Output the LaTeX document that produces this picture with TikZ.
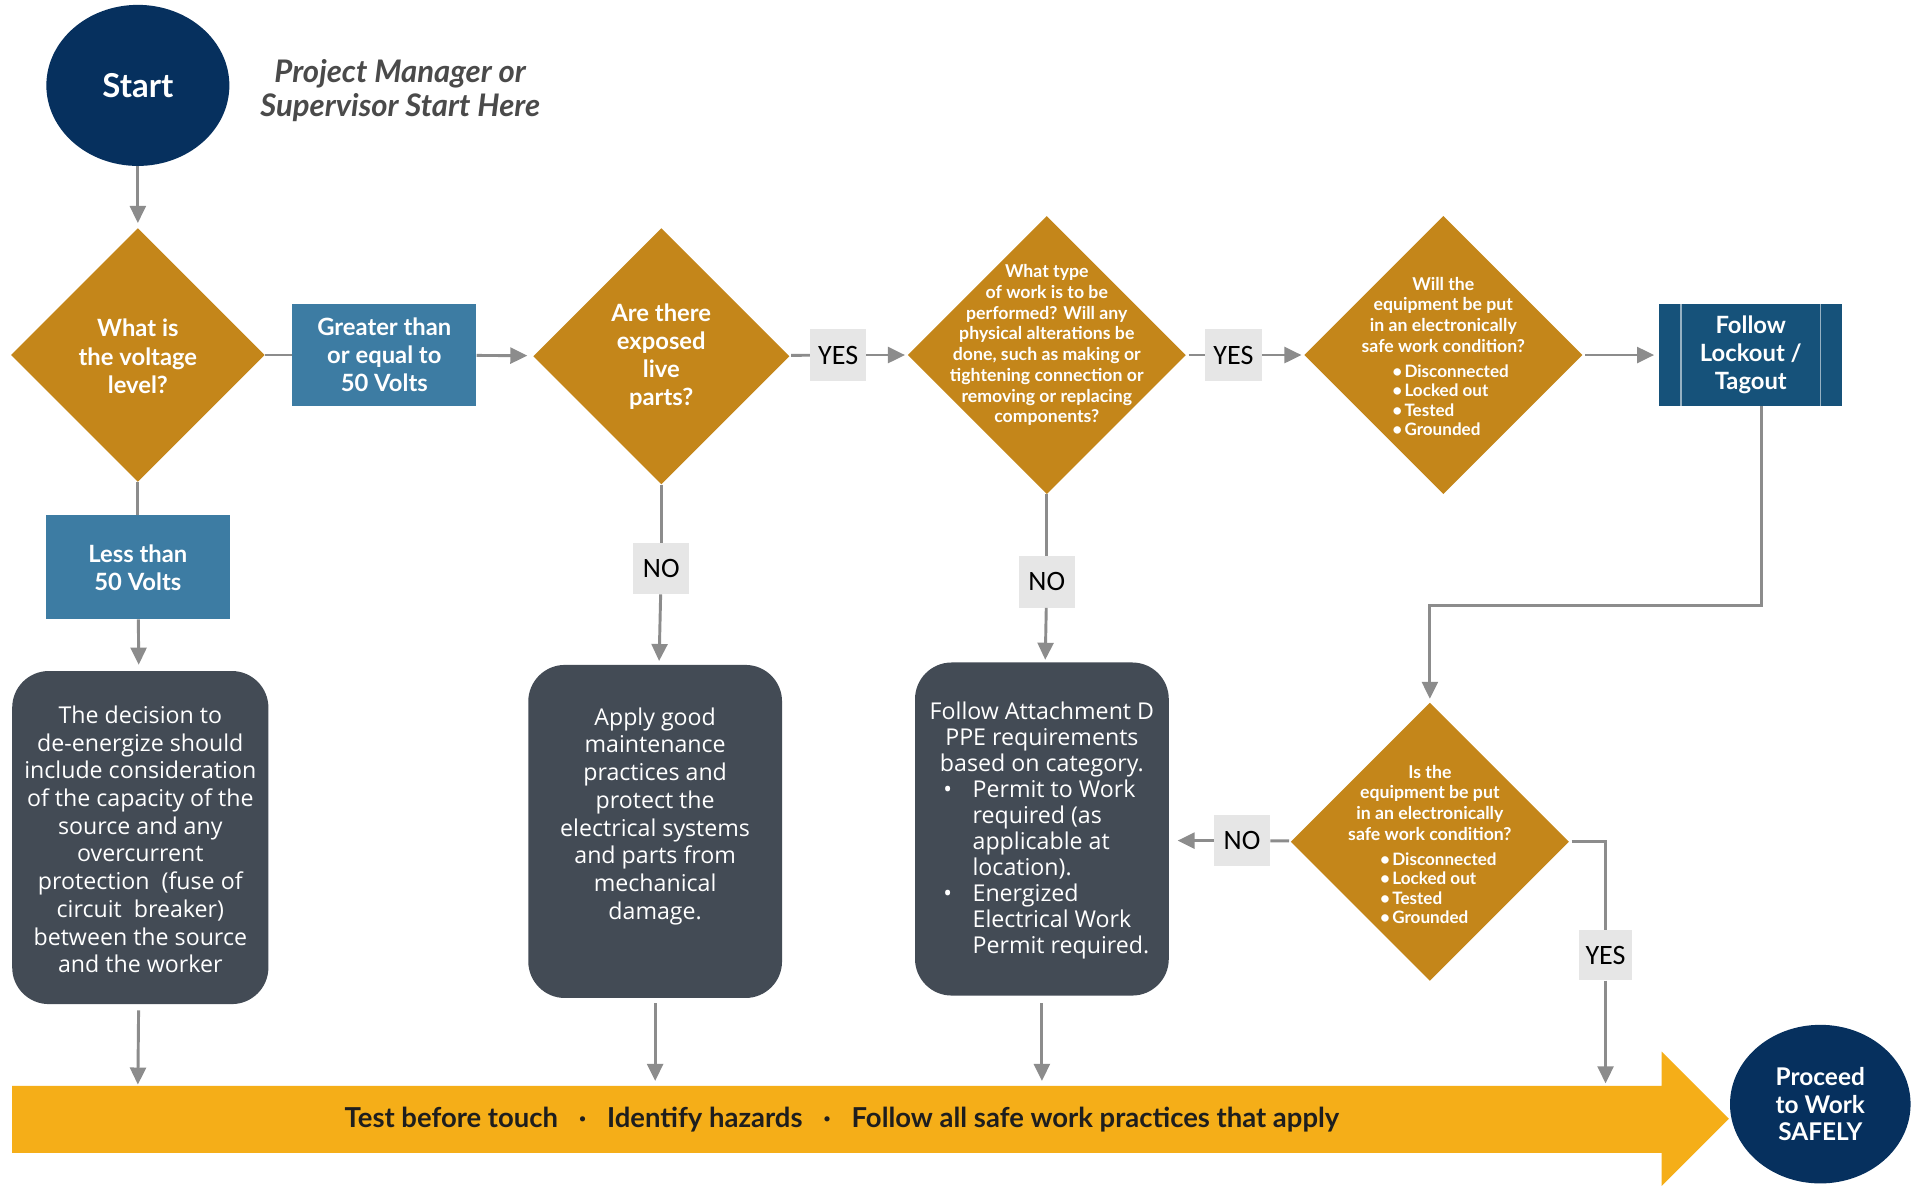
\documentclass[tikz,border=0pt]{standalone}
\usepackage{fontspec}
\setmainfont{Lato}
\newfontfamily\labfont{Carlito}
\newfontfamily\boxfont{Open Sans}
\usetikzlibrary{shapes.geometric,arrows.meta}
\definecolor{cGold}{HTML}{C4861A}
\definecolor{cSteel}{HTML}{3D7CA3}
\definecolor{cLock}{HTML}{16527A}
\definecolor{cNavy}{HTML}{06305E}
\definecolor{cSlate}{HTML}{434B55}
\definecolor{cYel}{HTML}{F5AE18}
\definecolor{cLine}{HTML}{8C8C8C}
\definecolor{cLab}{HTML}{E6E6E6}
\definecolor{cHead}{HTML}{4A4A4A}
\definecolor{cDark}{HTML}{1E1E1E}
\newcommand\fs[2]{\fontsize{#1}{#2}\selectfont}
\newcommand\sbul{\makebox[10pt][l]{\textbullet}}
\newcommand\bbul{\makebox[24pt][l]{\textbullet}}
\newcommand\bind{\hspace*{24pt}}
\begin{document}
\begin{tikzpicture}[x=1pt,y=-1pt,
  conn/.style={draw=cLine, line width=2.4pt},
  conarrow/.style={conn, -{Triangle[length=14pt,width=13pt]}},
  dia/.style={diamond, fill=cGold, inner sep=0pt, aspect=1, minimum width=#1, minimum height=#1},
  dtext/.style={text=white, align=center, inner sep=0pt, font=\bfseries\fs{15}{17}},
  bluebox/.style={rectangle, fill=cSteel, text=white, align=center, minimum width=151pt, minimum height=84pt, inner sep=0pt, font=\bfseries\fs{19.5}{23}},
  rbox/.style={rectangle, rounded corners=30pt, fill=cSlate, minimum width=209pt, minimum height=273pt, inner sep=0pt},
  rtext/.style={text=white, align=center, inner sep=0pt, font=\boxfont\fs{19}{22.7}},
  lab/.style={rectangle, fill=cLab, minimum width=46pt, minimum height=42pt, inner sep=0pt, font=\labfont\fs{23}{24}},
  myoval/.style={ellipse, fill=cNavy, text=white, align=center, inner sep=0pt},
]
\useasboundingbox (0,0) rectangle (1568,972);
\fill[white] (0,0) rectangle (1568,972);

% start
\node[myoval, minimum width=150pt, minimum height=132pt, font=\bfseries\fs{27}{30}] (start) at (113,70) {Start};
\node[text=cHead, font=\bfseries\itshape\fs{25.5}{28}, align=center, inner sep=0pt] (who) at (328,74) {Project Manager or\\Supervisor Start Here};

% row 1
\node[dia=208pt] (d1) at (113,291) {};
\node[dtext, font=\bfseries\fs{19.5}{23}] (t1) at (113,292) {What is\\the voltage\\level?};
\node[bluebox] (gt) at (315,291) {Greater than\\or equal to\\50 Volts};
\node[dia=210pt] (d2) at (542,292) {};
\node[dtext, font=\bfseries\fs{19.5}{23}] (t2) at (542,292) {Are there\\exposed\\live\\parts?};
\node[lab] (y1) at (687,291) {YES};
\node[dia=228pt] (d3) at (858,291) {};
\node[dtext, font=\bfseries\fs{14.5}{17}] (t3) at (858,283) {What type\\of work is to be\\performed? Will any\\physical alterations be\\done, such as making or\\tightening connection or\\removing or replacing\\components?};
\node[lab] (y2) at (1011,291) {YES};
\node[dia=228pt] (d4) at (1183,291) {};
\node[dtext, font=\bfseries\fs{14.5}{17}] (t4) at (1183,258) {Will the\\equipment be put\\in an electronically\\safe work condition?};
\node[dtext, align=left, anchor=west, font=\bfseries\fs{14}{16}] (b4) at (1141,328) {\sbul Disconnected\\\sbul Locked out\\\sbul Tested\\\sbul Grounded};
\node[rectangle, fill=cLock, text=white, align=center, minimum width=150pt, minimum height=83pt, inner sep=0pt, font=\bfseries\fs{19.5}{23}] (lock) at (1435,291) {Follow\\Lockout /\\Tagout};
\draw[white!55!cLock, line width=1.2pt] ([xshift=18pt]lock.north west) -- ([xshift=18pt]lock.south west);
\draw[white!55!cLock, line width=1.2pt] ([xshift=-18pt]lock.north east) -- ([xshift=-18pt]lock.south east);

% row 2 labels
\node[bluebox, minimum height=85pt] (lt) at (113,465) {Less than\\50 Volts};
\node[lab] (n1) at (542,466) {NO};
\node[lab] (n2) at (858,477) {NO};

% dark boxes
\node[rbox, minimum width=210pt] (r1) at (115,686.5) {};
\node[rtext] (rt1) at (115,688) {The decision to\\de-energize should\\include consideration\\of the capacity of the\\source and any\\overcurrent\\protection\ \ (fuse of\\circuit\ \ breaker)\\between the source\\and the worker};
\node[rbox, minimum width=208pt] (r2) at (537,681.5) {};
\node[rtext] (rt2) at (537,669) {Apply good\\maintenance\\practices and\\protect the\\electrical systems\\and parts from\\mechanical\\damage.};
\node[rbox, minimum width=208pt] (r3) at (854,679.5) {};
\node[rtext, font=\boxfont\fs{19}{21.3}] (rt3a) at (854,606) {Follow Attachment D\\PPE requirements\\based on category.};
\node[rtext, align=left, anchor=west, font=\boxfont\fs{19}{21.3}] (rt3b) at (773,713) {\bbul Permit to Work\\\bind required (as\\\bind applicable at\\\bind location).\\\bbul Energized\\\bind Electrical Work\\\bind Permit required.};

% diamond 5
\node[dia=228pt] (d5) at (1172,690) {};
\node[dtext, font=\bfseries\fs{14.5}{17}] (t5) at (1172,658) {Is the\\equipment be put\\in an electronically\\safe work condition?};
\node[dtext, align=left, anchor=west, font=\bfseries\fs{14}{16}] (b5) at (1131,728) {\sbul Disconnected\\\sbul Locked out\\\sbul Tested\\\sbul Grounded};
\node[lab] (n3) at (1018,689) {NO};
\node[lab, minimum width=43pt, minimum height=41pt] (y3) at (1316,783) {YES};

% band
\fill[cYel] (10,890) -- (1362,890) -- (1362,862) -- (1417,917) -- (1362,972) -- (1362,945) -- (10,945) -- cycle;
\node[font=\bfseries\fs{22.5}{26}, text=cDark, inner sep=0pt] (band) at (690,918) {Test before touch\hspace{17pt}\textperiodcentered\hspace{17pt}Identify hazards\hspace{17pt}\textperiodcentered\hspace{17pt}Follow all safe work practices that apply};
\coordinate (b1) at (113,889);
\coordinate (b2) at (537,886);
\coordinate (b3) at (854,886);
\coordinate (b4) at (1316,888);
\node[myoval, minimum width=148pt, minimum height=130pt, font=\bfseries\fs{20}{22.5}] (proc) at (1492,905) {Proceed\\to Work\\SAFELY};

% connectors
\draw[conarrow, shorten >=4pt] (start) -- (d1);
\draw[conn] (d1) -- (gt);
\draw[conarrow, shorten >=5pt] (gt) -- (d2);
\draw[conn, shorten <=2pt] (d2) -- (y1);
\draw[conarrow, shorten >=2pt] (y1) -- (d3);
\draw[conn, shorten <=2pt] (d3) -- (y2);
\draw[conarrow, shorten >=2pt] (y2) -- (d4);
\draw[conarrow, shorten <=2pt, shorten >=4pt] (d4) -- (lock);
\coordinate (bend) at (1172,496);
\draw[conarrow, shorten >=3pt] ([xshift=9pt]lock.south) |- (bend) -- (d5.north);
\draw[conn] (d1) -- (lt);
\draw[conarrow, shorten >=5pt] (lt) -- (r1);
\draw[conn] (d2) -- (n1);
\draw[conarrow, shorten >=3pt] (n1) -- (r2);
\draw[conn] (d3) -- (n2);
\draw[conarrow, shorten >=2pt] (n2) -- (r3);
\draw[conn, shorten <=2pt] (d5) -- (n3);
\draw[conarrow, shorten >=7pt] (n3) -- (r3.east |- n3);
\draw[conn, shorten <=2pt] (d5.east) -| (y3.north);
\draw[conarrow] (y3) -- (b4);
\draw[conarrow, shorten <=5pt] (r1) -- (b1);
\draw[conarrow, shorten <=4pt] (r2) -- (b2);
\draw[conarrow, shorten <=6pt] (r3) -- (b3);
\end{tikzpicture}
\end{document}
